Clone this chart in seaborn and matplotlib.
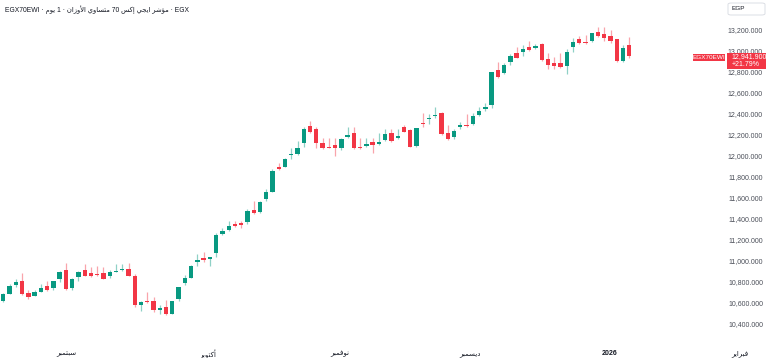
import numpy as np
import matplotlib
matplotlib.use('Agg')
import matplotlib.pyplot as plt
import seaborn as sns
from matplotlib.patches import FancyBboxPatch, Rectangle
from matplotlib.transforms import blended_transform_factory, offset_copy, IdentityTransform
from matplotlib.ticker import FuncFormatter

# ------------------------------------------------------------------
# Daily OHLC of EGX70EWI, index points
# ------------------------------------------------------------------
opens = [10612, 10679, 10765, 10806, 10691, 10663, 10701, 10755, 10733, 10822,
         10905, 10733, 10838, 10905, 10882, 10872, 10876, 10853, 10891, 10908,
         10920, 10853, 10579, 10615, 10612, 10524, 10552, 10486, 10627, 10787,
         10836, 10988, 11022, 11017, 11065, 11255, 11293, 11350, 11355, 11360,
         11479, 11458, 11581, 11653, 11891, 11891, 12006, 12012, 12120, 12282,
         12253, 12114, 12079, 12098, 12067, 12177, 12210, 12079, 12093, 12124,
         12105, 12146, 12210, 12162, 12267, 12241, 12089, 12301, 12343, 12374,
         12400, 12210, 12170, 12270, 12289, 12295, 12384, 12438, 12479, 12812,
         12784, 12884, 12974, 12987, 13034, 13022, 13060, 12914, 12876, 12876,
         12851, 13029, 13105, 13082, 13091, 13171, 13155, 13139, 13108, 12901,
         13050]
highs = [10685, 10774, 10822, 10876, 10717, 10720, 10774, 10806, 10806, 10901,
         10971, 10829, 10898, 10965, 10939, 10943, 10933, 10908, 10965, 10968,
         10979, 10869, 10617, 10695, 10653, 10574, 10622, 10617, 10750, 10860,
         10955, 11060, 11076, 11034, 11257, 11308, 11374, 11374, 11379, 11484,
         11565, 11565, 11677, 11865, 11929, 11971, 12067, 12139, 12267, 12329,
         12267, 12162, 12162, 12162, 12162, 12272, 12272, 12162, 12162, 12168,
         12210, 12248, 12248, 12248, 12284, 12248, 12263, 12400, 12398, 12463,
         12408, 12286, 12246, 12317, 12393, 12406, 12463, 12495, 12796, 12884,
         12876, 12963, 13027, 13055, 13091, 13057, 13067, 12977, 12933, 12971,
         13010, 13114, 13136, 13146, 13168, 13219, 13219, 13193, 13112, 13050,
         13123]
lows = [10600, 10676, 10748, 10669, 10634, 10657, 10695, 10710, 10717, 10796,
        10720, 10720, 10803, 10850, 10844, 10853, 10819, 10829, 10886, 10898,
        10846, 10558, 10517, 10590, 10510, 10486, 10479, 10484, 10617, 10760,
        10831, 10950, 10984, 10948, 11031, 11241, 11282, 11317, 11303, 11350,
        11441, 11450, 11568, 11646, 11860, 11884, 11962, 12003, 12082, 12215,
        12067, 12057, 12067, 11993, 12050, 12162, 12057, 12063, 12082, 12025,
        12098, 12139, 12129, 12152, 12219, 12076, 12082, 12267, 12296, 12355,
        12193, 12146, 12160, 12246, 12265, 12289, 12377, 12419, 12453, 12733,
        12771, 12863, 12924, 12946, 12993, 13012, 12901, 12822, 12819, 12829,
        12774, 12987, 13060, 13060, 13079, 13124, 13091, 13067, 12891, 12891,
        12929]
closes = [10676, 10755, 10796, 10679, 10650, 10695, 10736, 10717, 10800, 10891,
          10727, 10819, 10886, 10853, 10847, 10857, 10822, 10888, 10901, 10917,
          10855, 10574, 10600, 10603, 10522, 10541, 10486, 10612, 10743, 10827,
          10949, 11006, 11003, 11027, 11241, 11276, 11331, 11331, 11336, 11470,
          11447, 11558, 11646, 11855, 11869, 11962, 12015, 12067, 12253, 12225,
          12114, 12067, 12072, 12067, 12152, 12191, 12067, 12070, 12108, 12098,
          12130, 12200, 12139, 12187, 12225, 12082, 12257, 12295, 12352, 12384,
          12201, 12152, 12234, 12284, 12279, 12370, 12425, 12457, 12793, 12741,
          12863, 12946, 12931, 13010, 13003, 13041, 12908, 12860, 12851, 12838,
          12987, 13082, 13067, 13072, 13162, 13136, 13114, 13091, 12898, 13019,
          12941.9]

# month labels, placed at the session index of the first trading day
month_names = ['سبتمبر', 'أكتوبر', 'نوفمبر', 'ديسمبر', '2026', 'فبراير']
month_pos = [10, 32.7, 53.8, 74.6, 96.9, 117.7]
price_ticks = np.arange(10400, 13201, 200)
change_pct = '+21.79%'
symbol = 'EGX70EWI'
title_ar = 'مؤشر ايجي إكس 70 متساوي الأوزان · 1 يوم'

# ------------------------------------------------------------------
# Arabic helper: matplotlib has no shaping / bidi, so pick
# presentation forms and lay the words out right-to-left by hand
# ------------------------------------------------------------------
DUAL = {'ب': 0xFE8F, 'ت': 0xFE95, 'ج': 0xFE9D, 'س': 0xFEB1, 'ش': 0xFEB5,
        'ف': 0xFED1, 'ك': 0xFED9, 'ل': 0xFEDD, 'م': 0xFEE1, 'ن': 0xFEE5,
        'ي': 0xFEF1}
RIGHT = {'ا': 0xFE8D, 'أ': 0xFE83, 'إ': 0xFE87, 'د': 0xFEA9, 'ر': 0xFEAD,
         'ز': 0xFEAF, 'و': 0xFEED, 'ؤ': 0xFE85, '\ufef7': 0xFEF7}


def shape_word(w):
    w = w.replace('لأ', '\ufef7')
    out = []
    for i, ch in enumerate(w):
        base = DUAL.get(ch, RIGHT.get(ch))
        if base is None:
            out.append(ch)
            continue
        prev = w[i - 1] if i > 0 else ''
        nxt = w[i + 1] if i + 1 < len(w) else ''
        jp = prev in DUAL
        jn = ch in DUAL and (nxt in DUAL or nxt in RIGHT)
        off = 3 if (jp and jn) else 1 if jp else 2 if jn else 0
        out.append(chr(base + off))
    return ''.join(reversed(out))


def rtl(text):
    toks = text.split(' ')[::-1]
    return ' '.join(shape_word(t) if any(ch in DUAL or ch in RIGHT for ch in t) else t
                    for t in toks)


# ------------------------------------------------------------------
# Style
# ------------------------------------------------------------------
sns.set_theme(style='white')
plt.rcParams['font.family'] = ['Liberation Sans', 'DejaVu Sans']

UP, DOWN = '#089981', '#F23645'
TXT = '#131722'

o = np.array(opens, dtype=float)
h = np.array(highs, dtype=float)
l = np.array(lows, dtype=float)
c = np.array(closes, dtype=float)
idx = np.arange(len(o))
colors = np.where(c >= o, UP, DOWN)

fig = plt.figure(figsize=(7.68, 3.58), dpi=100)
ax = fig.add_axes([0, 18 / 358, 1, 340 / 358])

# wicks (pale) then bodies
wick_cols = [matplotlib.colors.to_rgba(col, 0.45) for col in colors]
ax.vlines(idx, l, h, colors=wick_cols, linewidth=0.9, zorder=2)
ax.bar(idx, np.maximum(np.abs(c - o), 9), bottom=np.minimum(o, c),
       width=0.69, color=colors, linewidth=0, zorder=3)

ax.set_xlim(-0.527, 122.15)
ax.set_ylim(10240.95, 13479.05)
for s in ax.spines.values():
    s.set_visible(False)

# time axis
ax.set_xticks(month_pos)
ax.set_xticklabels([rtl(m) for m in month_names])
ax.tick_params(axis='x', length=0, pad=7, labelsize=5, labelcolor=TXT)
for t in ax.get_xticklabels():
    if t.get_text() == '2026':
        t.set_fontweight('bold')

# price scale, drawn inside on the right
ax.yaxis.tick_right()
ax.set_yticks(price_ticks)
ax.yaxis.set_major_formatter(FuncFormatter(lambda v, p: f'{v:,.3f}'))
ax.tick_params(axis='y', length=0, pad=-3.6, labelsize=5, labelcolor='#4a4e58')
for t in ax.get_yticklabels():
    t.set_ha('right')

# title
title = f'{symbol} · {rtl(title_ar)} · EGX'
fig.text(5 / 768, 1 - 10 / 358, title, fontsize=4.9, color=TXT, va='center')

# currency box
fig.add_artist(FancyBboxPatch((728 / 768, 1 - 15 / 358), 37 / 768, 12 / 358,
                              boxstyle='round,pad=0,rounding_size=0.004',
                              transform=fig.transFigure, facecolor='white',
                              edgecolor='#d6d9e0', linewidth=0.6))
fig.text(732 / 768, 1 - 9 / 358, 'EGP', fontsize=4.6, color=TXT, va='center')

# last price label
last = c[-1]
fig.canvas.draw()
yd = ax.transData.transform((0, last))[1]
ax.add_patch(Rectangle((726.7, yd - 12.9), 39.3, 16.0, transform=IdentityTransform(),
                       facecolor=DOWN, edgecolor='none', zorder=5, clip_on=False))
ax.add_patch(Rectangle((693, yd - 4.6), 32, 7.5, transform=IdentityTransform(),
                       facecolor=DOWN, edgecolor='none', zorder=5, clip_on=False))
trans = blended_transform_factory(fig.transFigure, ax.transData)
ax.text(731.5 / 768, last, f'{last:,.3f}', transform=trans, fontsize=5,
        color='white', va='center', ha='left', zorder=6)
ax.text(731.5 / 768, last, change_pct, transform=offset_copy(trans, fig, y=-8.3, units='dots'),
        fontsize=5, color='white', va='center', ha='left', zorder=6)
ax.text(709 / 768, last, symbol, transform=offset_copy(trans, fig, y=-0.7, units='dots'),
        fontsize=4.6, color='white', va='center', ha='center', zorder=6)

plt.savefig('out.png', dpi=100)
